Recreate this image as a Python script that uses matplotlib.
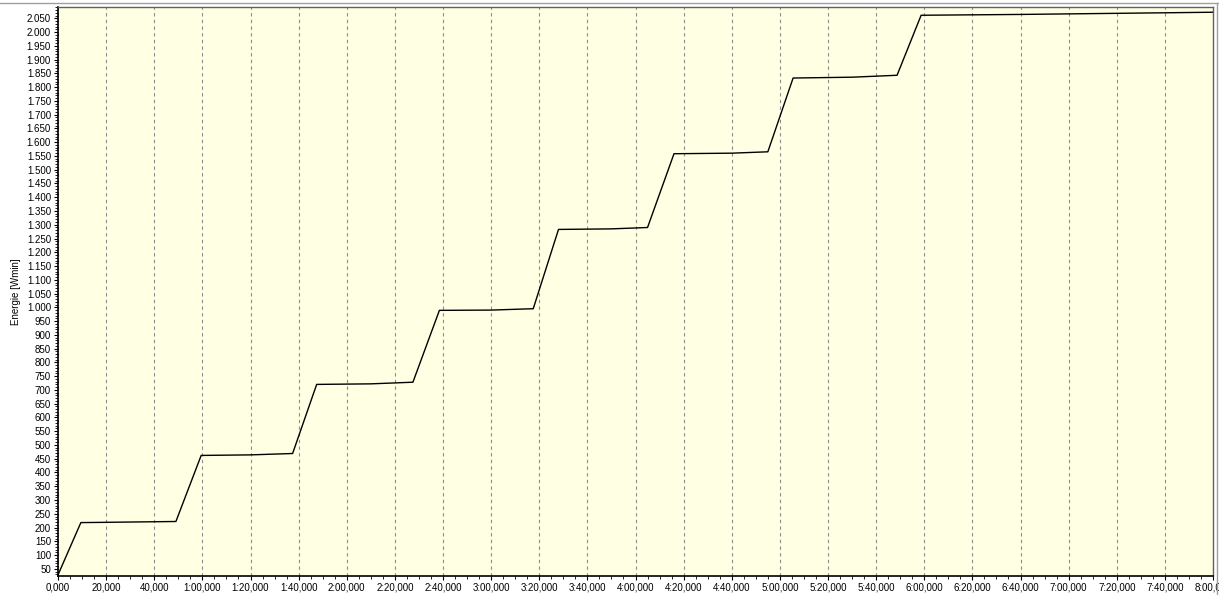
import matplotlib
matplotlib.use("Agg")
import matplotlib.pyplot as plt
from matplotlib.ticker import FuncFormatter, MultipleLocator

# time in seconds, energy in Wmin
time_s = [0, 9.5, 20, 49, 59.5, 80, 97.5, 107.5, 130, 147.5, 158.5, 180, 197.5,
          208, 230, 245, 256, 280, 295, 305.5, 330, 348.7, 358.7, 400, 440, 480]
energy = [28, 218, 219, 222, 462, 464, 469, 720, 722, 728, 989, 990, 995,
          1283, 1285, 1290, 1558, 1560, 1565, 1833, 1836, 1843, 2061, 2064, 2068, 2072]

x_ticks = list(range(0, 481, 20))
y_ticks = list(range(50, 2051, 50))

plt.rcParams['font.family'] = ['Liberation Sans', 'DejaVu Sans']

fig = plt.figure(figsize=(12.19, 5.95), dpi=100)
ax = fig.add_axes([58/1219, 1-576/595, (1213-58)/1219, (576-7)/595])
ax.set_facecolor('#FFFFE4')

ax.plot(time_s, energy, color='black', lw=1.0)

ax.set_xlim(0, 480)
ax.set_ylim(24, 2091)

def fmt_x(v, pos):
    v = int(round(v))
    m, s = divmod(v, 60)
    if m == 0:
        return f"{s},000"
    return f"{m}:{s:02d},000"

def fmt_y(v, pos):
    v = int(round(v))
    return f"{v:,}".replace(",", ".")

ax.set_xticks(x_ticks)
ax.xaxis.set_major_formatter(FuncFormatter(fmt_x))
ax.xaxis.set_minor_locator(MultipleLocator(5))
ax.set_yticks(y_ticks)
ax.yaxis.set_major_formatter(FuncFormatter(fmt_y))
ax.yaxis.set_minor_locator(MultipleLocator(10))

ax.tick_params(axis='both', which='major', labelsize=7, length=3, width=0.8,
               colors='black', pad=2)
ax.tick_params(axis='both', which='minor', length=2, width=0.6)

ax.grid(axis='x', which='major', linestyle=(0, (3, 3)), color='#8c8c8c', lw=0.8)

for side in ['left', 'bottom']:
    ax.spines[side].set_color('black')
    ax.spines[side].set_linewidth(1.2)
for side in ['top', 'right']:
    ax.spines[side].set_color('#606060')
    ax.spines[side].set_linewidth(1.0)

ax.set_ylabel('Energie [Wmin]', fontsize=7, labelpad=4)

# outer frame lines at top and right
fig.add_artist(plt.Line2D([0, 1], [1-3/595, 1-3/595], color='#a0a0a0', lw=1.0))
fig.add_artist(plt.Line2D([1-2/1219, 1-2/1219], [0.0, 1-3/595], color='#a0a0a0', lw=1.0))

fig.savefig('out.png', dpi=100, facecolor='white')
